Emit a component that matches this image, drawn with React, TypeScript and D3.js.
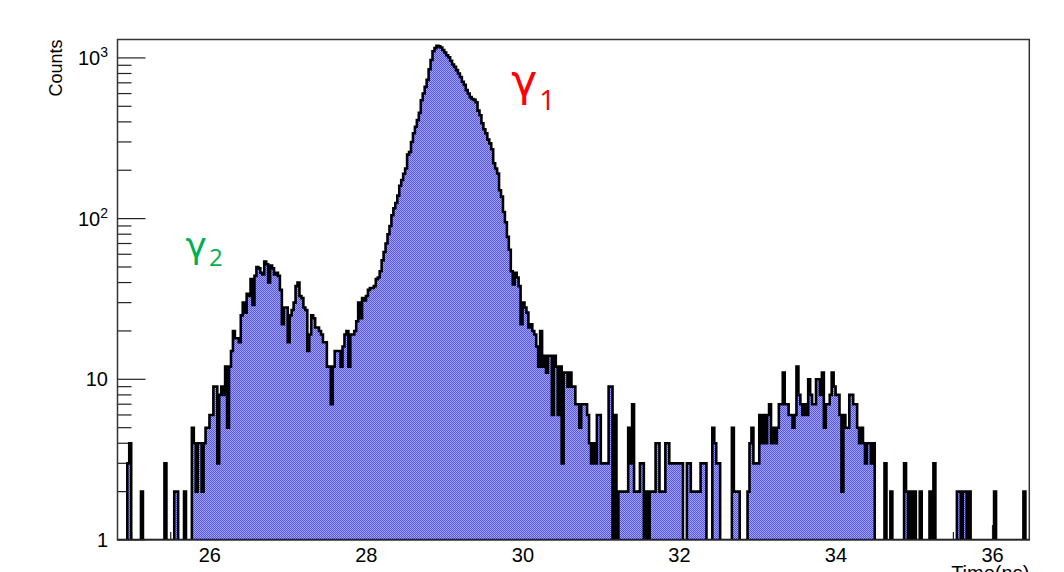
import React from 'react';
import * as d3 from 'd3';

// histogram binning (ns)
const X_MIN = 24.82;
const BIN_WIDTH = 0.025;

// bin contents (10 bins per row)
const counts: number[] = [
  0, 0, 0, 0, 0, 3, 4, 0, 0, 0,
  0, 0, 2, 1, 0, 0, 0, 0, 0, 0,
  0, 0, 0, 1, 3, 0, 0, 0, 0, 2,
  2, 1, 0, 0, 2, 0, 0, 0, 5, 4,
  2, 4, 4, 2, 4, 5, 5, 6, 6, 9,
  9, 3, 8, 9, 8, 12, 5, 12, 15, 20,
  18, 18, 17, 25, 30, 26, 34, 33, 42, 29,
  44, 50, 49, 46, 45, 54, 52, 40, 51, 49,
  45, 46, 44, 36, 22, 28, 28, 17, 25, 27,
  30, 38, 40, 33, 32, 28, 27, 15, 19, 25,
  24, 21, 21, 20, 19, 17, 17, 12, 12, 7,
  12, 15, 15, 15, 12, 16, 19, 20, 12, 19,
  19, 20, 23, 30, 24, 32, 31, 33, 36, 37,
  37, 38, 42, 43, 47, 55, 62, 70, 80, 90,
  105, 116, 125, 139, 160, 174, 190, 205, 250, 260,
  300, 340, 373, 410, 455, 545, 600, 660, 730, 850,
  970, 1100, 1150, 1190, 1180, 1160, 1120, 1080, 1040, 1010,
  960, 910, 880, 840, 800, 760, 710, 680, 630, 600,
  570, 555, 548, 530, 470, 440, 392, 360, 339, 310,
  294, 270, 221, 205, 191, 150, 137, 110, 95, 77,
  64, 47, 39, 46, 43, 38, 22, 30, 28, 26,
  21, 22, 20, 19, 16, 12, 20, 12, 14, 11,
  14, 14, 6, 14, 12, 6, 12, 3, 11, 11,
  9, 11, 9, 9, 7, 7, 5, 7, 7, 7,
  6, 4, 3, 4, 3, 6, 6, 3, 3, 3,
  3, 9, 9, 1, 6, 1, 2, 2, 2, 2,
  2, 5, 3, 7, 2, 2, 2, 3, 3, 1,
  2, 1, 2, 2, 2, 4, 4, 2, 2, 2,
  4, 4, 3, 3, 3, 3, 3, 3, 3, 0,
  0, 3, 3, 2, 2, 2, 2, 2, 3, 3,
  3, 0, 0, 1, 5, 4, 3, 3, 0, 0,
  0, 0, 0, 0, 5, 2, 2, 2, 0, 0,
  0, 0, 2, 4, 5, 3, 3, 3, 6, 4,
  6, 4, 6, 7, 4, 5, 4, 5, 7, 7,
  11, 7, 7, 6, 6, 5, 6, 12, 8, 7,
  6, 7, 6, 10, 8, 7, 7, 10, 10, 8,
  11, 5, 7, 7, 8, 11, 9, 8, 8, 6,
  2, 6, 5, 5, 8, 8, 7, 7, 5, 4,
  5, 4, 3, 4, 4, 3, 4, 0, 0, 0,
  0, 0, 3, 0, 0, 2, 0, 0, 0, 0,
  0, 0, 3, 2, 1, 2, 1, 2, 0, 0,
  2, 0, 0, 0, 0, 2, 1, 3, 0, 0,
  0, 0, 0, 0, 0, 0, 0, 0, 1, 2,
  2, 1, 2, 2, 0, 2, 0, 0, 0, 0,
  0, 0, 0, 0, 0, 0, 0, 0, 2, 0,
  0, 0, 0, 0, 0, 0, 0, 0, 0, 0,
  0, 0, 0, 2, 0, 0,
];

const xMajorTicks = [26, 28, 30, 32, 34, 36];
const yMajorTicks = [1, 10, 100, 1000];
const yTickExp = ['', '', '2', '3'];
const yTickBase = ['1', '10', '10', '10'];

// peak annotations, placed in data coordinates (ns, counts)
const peakLabels = [
  { name: 'γ', sub: '1', color: '#ff0000', x: 29.85, c: 580, size: 44, subSize: 28, subDy: 14 },
  { name: 'γ', sub: '2', color: '#00b050', x: 25.69, c: 57, size: 36, subSize: 24, subDy: 8 },
];

const W = 1064;
const H = 572;
const FONT = '"Liberation Sans", Arial, Helvetica, sans-serif';

const App: React.FC = () => {
  const left = 117.5;
  const right = 1029.3;
  const top = 39.5;
  const bottom = 540;
  const xMax = X_MIN + counts.length * BIN_WIDTH;

  const x = d3.scaleLinear().domain([X_MIN, xMax]).range([left, right]);
  const y = d3.scaleLog().domain([1, 1302]).range([bottom, top]);
  const yv = (c: number) => (c <= 1 ? y(1) : y(c));

  // ROOT style step outline, zero bins sit on the axis
  let d = `M${x(X_MIN)},${y(1)}`;
  counts.forEach((c, i) => {
    const x0 = x(X_MIN + i * BIN_WIDTH);
    const x1 = x(X_MIN + (i + 1) * BIN_WIDTH);
    const yy = yv(c);
    d += `L${x0},${yy}L${x1},${yy}`;
  });
  d += `L${x(xMax)},${y(1)}Z`;

  const xMinor = d3.range(25, 36.5, 0.5).filter(v => !xMajorTicks.includes(v));
  const yMinor: number[] = [];
  [1, 10, 100, 1000].forEach(dec => {
    for (let k = 2; k <= 9; k++) {
      if (dec * k < 1302) yMinor.push(dec * k);
    }
  });

  return (
    <svg
      width={W}
      height={H}
      style={{ position: 'absolute', left: 0, top: 0, background: '#fff' }}
    >
      <defs>
        <pattern id="dots" width="2" height="2" patternUnits="userSpaceOnUse">
          <rect width="2" height="2" fill="#a8a8ff" />
          <rect width="1" height="1" fill="#5050ff" />
          <rect x="1" y="1" width="1" height="1" fill="#5050ff" />
        </pattern>
        <clipPath id="frame">
          <rect x={left} y={top} width={right - left} height={bottom - top} />
        </clipPath>
      </defs>

      <rect width={W} height={H} fill="#fff" />

      {/* ticks */}
      <g stroke="#222" strokeWidth={1.2}>
        {xMajorTicks.map(v => (
          <line key={`xM${v}`} x1={x(v)} x2={x(v)} y1={bottom} y2={bottom - 15} />
        ))}
        {xMinor.map(v => (
          <line key={`xm${v}`} x1={x(v)} x2={x(v)} y1={bottom} y2={bottom - 8} />
        ))}
        {yMajorTicks.map(v => (
          <line key={`yM${v}`} x1={left} x2={left + 28} y1={y(v)} y2={y(v)} />
        ))}
        {yMinor.map(v => (
          <line key={`ym${v}`} x1={left} x2={left + 14} y1={y(v)} y2={y(v)} />
        ))}
      </g>

      {/* histogram */}
      <g clipPath="url(#frame)">
        <path d={d} fill="url(#dots)" stroke="#000" strokeWidth={2.6} strokeLinejoin="miter" />
      </g>

      {/* frame */}
      <rect
        x={left}
        y={top}
        width={right - left}
        height={bottom - top}
        fill="none"
        stroke="#333"
        strokeWidth={1.5}
      />

      {/* axis labels */}
      <g fontFamily={FONT} fontSize={20} fill="#000">
        {yMajorTicks.map((v, i) => (
          <text key={`yl${v}`} x={108} y={y(v) + 7} textAnchor="end">
            {yTickBase[i]}
            {yTickExp[i] && (
              <tspan fontSize={14} dy={-8}>
                {yTickExp[i]}
              </tspan>
            )}
          </text>
        ))}
        {xMajorTicks.map(v => (
          <text key={`xl${v}`} x={x(v)} y={562} textAnchor="middle">
            {v}
          </text>
        ))}
        <text x={right} y={580} textAnchor="end">
          Time(ns)
        </text>
        <text transform={`translate(62,${top}) rotate(-90)`} textAnchor="end" fontSize={18}>
          Counts
        </text>
      </g>

      {/* peak annotations */}
      {peakLabels.map(p => (
        <text
          key={p.sub}
          x={x(p.x)}
          y={y(p.c)}
          fill={p.color}
          fontFamily='"DejaVu Sans", sans-serif'
          fontSize={p.size}
        >
          {p.name}
          <tspan fontFamily='"Open Sans", sans-serif' fontSize={p.subSize} dx={2} dy={p.subDy}>
            {p.sub}
          </tspan>
        </text>
      ))}
    </svg>
  );
};

export default App;
